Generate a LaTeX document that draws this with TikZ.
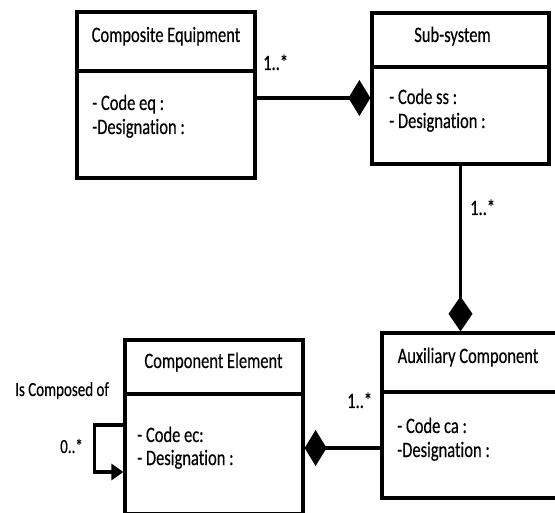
\documentclass[tikz,border=0pt]{standalone}
\usepackage{fontspec}
\setmainfont[FakeStretch=0.75,FakeBold=0.3,Ligatures={NoCommon,NoContextual},RawFeature={-calt}]{Carlito}
\usetikzlibrary{arrows.meta}
\tikzset{>=stealth}
\tikzset{
    classbox/.style={draw, rectangle, line width=3.2pt, inner sep=0pt},
    uml/.style={line width=3.2pt},
    composition/.style={uml, -{Diamond[length=22pt,width=36pt]}},
    composition down/.style={uml, -{Diamond[length=35pt,width=24pt]}},
    lbl/.style={font=\fontsize{22}{26}\selectfont, inner sep=0pt},
    small lbl/.style={font=\fontsize{20}{24}\selectfont, inner sep=0pt},
}

\begin{document}
\begin{tikzpicture}[x=1pt,y=-1pt]
    \useasboundingbox (0,0) rectangle (555,513);
    \clip (0,0) rectangle (555,513);

    % Draw the class boxes
    \node[classbox, minimum width=178pt, minimum height=166pt] (equip) at (166,95) {};
    \node[classbox, minimum width=177pt, minimum height=151pt] (subsys) at (460.5,88.5) {};
    \node[classbox, minimum width=178pt, minimum height=165pt] (aux) at (471,415.5) {};
    \node[classbox, minimum width=178pt, minimum height=174pt] (elem) at (214,427) {};

    % Header dividers
    \draw[uml] (equip.west |- 0,71) -- (equip.east |- 0,71);
    \draw[uml] (subsys.west |- 0,67) -- (subsys.east |- 0,67);
    \draw[uml] (aux.west |- 0,392) -- (aux.east |- 0,392);
    \draw[uml] (elem.west |- 0,394) -- (elem.east |- 0,394);

    % Class names
    \node[lbl, anchor=base] (equipname) at (166,42) {Composite Equipment};
    \node[lbl, anchor=base] (subsysname) at (452.5,42) {Sub-system};
    \node[lbl, anchor=base] (auxname) at (468,363) {Auxiliary Component};
    \node[lbl, anchor=base] (elemname) at (213.5,368) {Component Element};

    % Attributes
    \node[lbl, anchor=base west] (equipcode) at (92,110) {- Code eq :};
    \node[lbl, anchor=base west] (equipdesig) at (92,134) {-Designation :};
    \node[lbl, anchor=base west] (subsyscode) at (389,104) {- Code ss :};
    \node[lbl, anchor=base west] (subsysdesig) at (389,128) {- Designation :};
    \node[lbl, anchor=base west] (auxcode) at (397,433) {- Code ca :};
    \node[lbl, anchor=base west] (auxdesig) at (397,457) {-Designation :};
    \node[lbl, anchor=base west] (elemcode) at (137,442) {- Code ec:};
    \node[lbl, anchor=base west] (elemdesig) at (137,465) {- Designation :};

    % Compositions
    \draw[composition] ([yshift=-3pt]equip.east) -- ([yshift=-3pt]equip.east -| subsys.west);
    \draw[composition down] (subsys.south) -- (subsys.south |- aux.north);
    \draw[composition] ([yshift=-32.5pt]aux.west) -- ([yshift=-32.5pt]aux.west -| elem.east);

    % Self association
    \draw[uml, -{Triangle[length=12pt,width=16pt]}] ([yshift=2pt]elem.west) -- ++(-29,0) |- ([yshift=-45pt]elem.west);

    % Multiplicities and role
    \node[lbl, anchor=base west] (multequip) at (263,70) {1..*};
    \node[lbl, anchor=base west] (multsubsys) at (470,215) {1..*};
    \node[lbl, anchor=base west] (multaux) at (347,408) {1..*};
    \node[small lbl, anchor=base west] (multelem) at (60,453) {0..*};
    \node[small lbl, anchor=base west] (rolename) at (15,396) {Is Composed of};
\end{tikzpicture}
\end{document}
